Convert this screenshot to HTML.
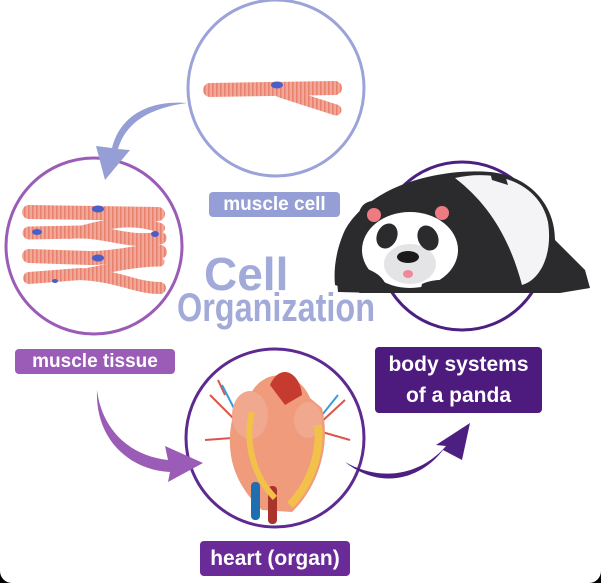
<!DOCTYPE html>
<html><head><style>
html,body{margin:0;padding:0;background:#000;}
.f{position:relative;width:601px;height:583px;background:#fff;border-radius:0 0 12px 12px;overflow:hidden;font-family:"Liberation Sans",sans-serif;}
.l{position:absolute;color:#fff;font-weight:bold;text-align:center;border-radius:4px;font-family:"Liberation Sans Narrow","Liberation Sans",sans-serif;}
</style></head><body><div class="f">
<svg width="601" height="583" style="position:absolute;left:0;top:0">
<defs>
<pattern id="st" width="4" height="10" patternUnits="userSpaceOnUse"><rect width="4" height="10" fill="#f2a898"/><rect width="1.6" height="10" fill="#e8826f"/></pattern>
</defs>
<circle cx="276" cy="88" r="88" fill="none" stroke="#9ba3d8" stroke-width="3"/>
<circle cx="94" cy="246" r="88" fill="none" stroke="#9a5cb7" stroke-width="3"/>
<circle cx="462" cy="246" r="84" fill="none" stroke="#4d1f80" stroke-width="3"/>
<circle cx="275" cy="438" r="89" fill="none" stroke="#5e2a91" stroke-width="3"/>
<path d="M187,103 C150,100 120,115 112,148 L96,146 L105,180 L130,150 L118,149 C126,122 150,108 187,103Z" fill="#959fd6"/>
<path d="M97,390 C95,440 130,470 170,472 L168,482 L203,463 L165,446 L168,460 C130,456 102,430 97,390Z" fill="#9a5cb7"/>
<path d="M345,462 C380,490 420,480 443,450 L462,460 L470,423 L436,445 L446,446 C420,476 380,482 345,462Z" fill="#4d1f80"/>
<!-- single muscle cell -->
<g stroke="url(#st)" stroke-linecap="round" fill="none">
<path d="M210,90 L335,88" stroke-width="14"/>
<path d="M280,92 L336,110" stroke-width="11"/>
</g>
<ellipse cx="277" cy="85" rx="6" ry="3.5" fill="#4b5fc8"/>
<!-- tissue -->
<g stroke="url(#st)" stroke-linecap="round" fill="none">
<path d="M29,212 L158,214" stroke-width="14"/>
<path d="M29,233 L80,232 C110,232 130,244 160,238" stroke-width="13"/>
<path d="M70,234 C110,222 135,218 160,228" stroke-width="10"/>
<path d="M29,256 L90,258 C120,258 140,250 160,252" stroke-width="14"/>
<path d="M29,278 L80,274 C120,276 135,288 160,288" stroke-width="12"/>
<path d="M70,276 C110,268 135,262 160,262" stroke-width="9"/>
</g>
<ellipse cx="98" cy="209" rx="6" ry="3.5" fill="#4b5fc8"/>
<ellipse cx="37" cy="232" rx="5" ry="3" fill="#4b5fc8"/>
<ellipse cx="155" cy="234" rx="4" ry="3" fill="#4b5fc8"/>
<ellipse cx="98" cy="258" rx="6" ry="3.5" fill="#4b5fc8"/>
<ellipse cx="55" cy="281" rx="3" ry="2" fill="#4b5fc8"/>
<!-- panda -->
<path d="M345,230 C370,185 440,168 490,172 C530,176 555,205 555,240 L585,270 L590,288 L560,293 L360,293 L335,285 C333,265 338,245 345,230Z" fill="#2b2b2e"/>
<path d="M455,178 C500,168 540,185 548,222 C553,255 540,280 522,285 C510,240 490,205 455,178Z" fill="#f4f4f6"/>
<path d="M490,172 L505,175 L508,185 L492,180Z" fill="#2b2b2e"/>
<circle cx="373" cy="215" r="14" fill="#2b2b2e"/><circle cx="374" cy="215" r="7" fill="#ee7b82"/>
<circle cx="442" cy="213" r="14" fill="#2b2b2e"/><circle cx="442" cy="213" r="7" fill="#ee7b82"/>
<ellipse cx="410" cy="250" rx="48" ry="38" fill="#fff"/>
<ellipse cx="410" cy="264" rx="26" ry="20" fill="#e4e4e6"/>
<ellipse cx="387" cy="236" rx="10" ry="13" fill="#2b2b2e" transform="rotate(25 387 236)"/>
<ellipse cx="428" cy="238" rx="10" ry="13" fill="#2b2b2e" transform="rotate(-25 428 238)"/>
<ellipse cx="408" cy="257" rx="11" ry="6" fill="#1a1a1a"/>
<ellipse cx="408" cy="274" rx="5" ry="4" fill="#f08a98"/>
<path d="M336,268 C350,262 378,268 385,283 L378,293 L338,292Z" fill="#2b2b2e"/>
<path d="M422,284 C440,276 462,280 472,293 L420,293Z" fill="#2b2b2e"/>
<!-- heart -->
<g stroke-width="2" fill="none">
<path d="M210,395 L240,425 M205,440 L232,438 M225,395 L218,380 M345,400 L318,425 M350,440 L322,432" stroke="#d9564a"/>
<path d="M222,385 L240,420 M338,395 L318,420" stroke="#3b9dd6"/>
</g>
<path d="M250,395 C265,365 300,372 310,398 L322,408 C332,450 315,490 292,512 L262,510 C235,485 225,455 232,420 C236,405 243,398 250,395Z" fill="#ef9b7c"/>
<ellipse cx="250" cy="415" rx="18" ry="24" fill="#f0a88e"/>
<ellipse cx="308" cy="420" rx="14" ry="18" fill="#f0a88e"/>
<path d="M270,385 C280,362 300,372 302,395 L285,405Z" fill="#c63b2f"/>
<rect x="251" y="482" width="9" height="38" rx="4" fill="#1f6fb0"/>
<rect x="268" y="486" width="9" height="38" rx="4" fill="#a8342c"/>
<path d="M252,412 C245,440 252,475 275,498" stroke="#f2c14a" stroke-width="6" fill="none"/>
<path d="M318,425 C322,460 305,490 290,505" stroke="#f2c14a" stroke-width="8" fill="none"/>
<text x="204" y="290" font-family="Liberation Sans Narrow, Liberation Sans, sans-serif" font-size="46" font-weight="bold" fill="#a2aad9">Cell</text>
<text x="177" y="321" font-family="Liberation Sans Narrow, Liberation Sans, sans-serif" font-size="40" font-weight="bold" fill="#a2aad9" textLength="198" lengthAdjust="spacingAndGlyphs">Organization</text>
</svg>
<div class="l" style="left:209px;top:192px;width:131px;height:25px;line-height:25px;font-size:19px;background:#959fd6">muscle cell</div>
<div class="l" style="left:15px;top:349px;width:160px;height:25px;line-height:25px;font-size:19px;background:#9a5cb7">muscle tissue</div>
<div class="l" style="left:375px;top:347px;width:167px;height:66px;line-height:31px;padding-top:2px;box-sizing:border-box;font-size:21px;background:#4d1a7e">body systems<br>of a panda</div>
<div class="l" style="left:200px;top:541px;width:150px;height:35px;line-height:35px;font-size:21px;background:#6a2b98">heart (organ)</div>
</div></body></html>
